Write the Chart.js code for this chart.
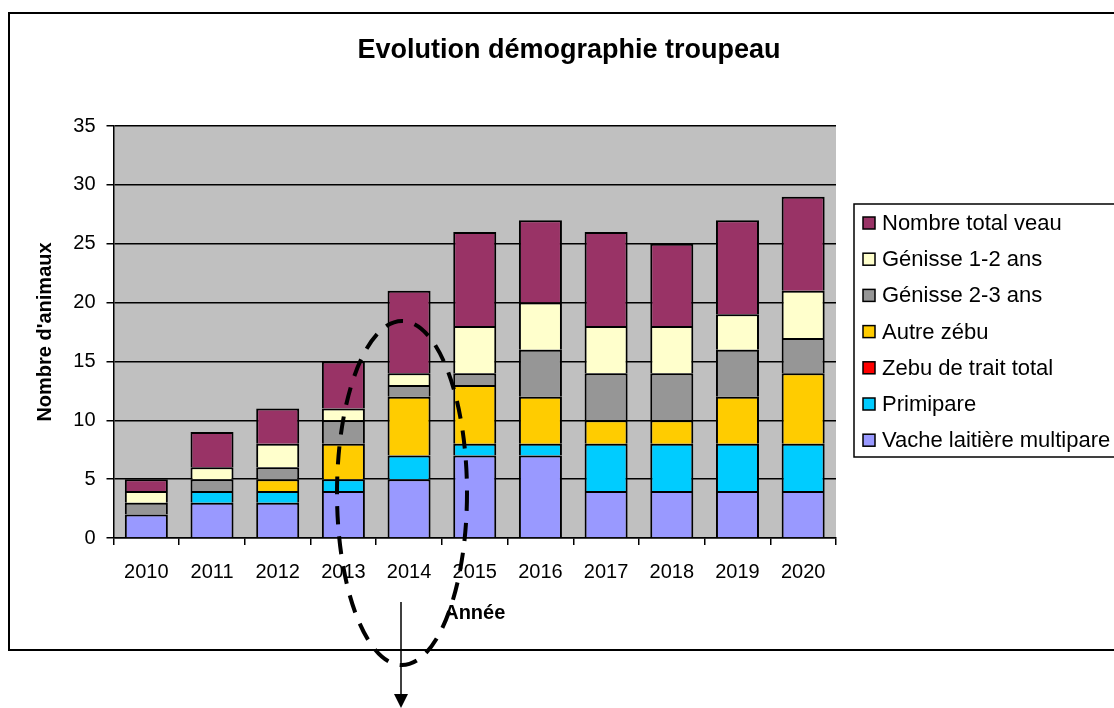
<!DOCTYPE html>
<html lang="fr">
<head>
<meta charset="utf-8">
<title>Evolution démographie troupeau</title>
<script src="https://cdn.jsdelivr.net/npm/chart.js@4.4.1/dist/chart.umd.min.js"></script>
<style>
  html, body { margin: 0; padding: 0; background: #fff; }
  canvas { display: block; }
</style>
</head>
<body>
<canvas id="herdChart" width="1114" height="708"></canvas>
<script>
// --- DATA (head count per year, stacked bottom to top) ---
const years = ['2010', '2011', '2012', '2013', '2014', '2015', '2016', '2017', '2018', '2019', '2020'];
const vacheMultipare = [2, 3, 3, 4, 5, 7, 7, 4, 4, 4, 4];
const primipare      = [0, 1, 1, 1, 2, 1, 1, 4, 4, 4, 4];
const zebuTrait      = [0, 0, 0, 0, 0, 0, 0, 0, 0, 0, 0];
const autreZebu      = [0, 0, 1, 3, 5, 5, 4, 2, 2, 4, 6];
const genisse23      = [1, 1, 1, 2, 1, 1, 4, 4, 4, 4, 3];
const genisse12      = [1, 1, 2, 1, 1, 4, 4, 4, 4, 3, 4];
const veaux          = [1, 3, 3, 4, 7, 8, 7, 8, 7, 8, 8];
const yTicks = [0, 5, 10, 15, 20, 25, 30, 35];

const FONT = "'Liberation Sans', Arial, sans-serif";

const series = [
    { label: 'Vache laitière multipare', data: vacheMultipare, color: '#9999ff' },
    { label: 'Primipare', data: primipare, color: '#00ccff' },
    { label: 'Zebu de trait total', data: zebuTrait, color: '#ff0000' },
    { label: 'Autre zébu', data: autreZebu, color: '#ffcc00' },
    { label: 'Génisse 2-3 ans', data: genisse23, color: '#969696' },
    { label: 'Génisse 1-2 ans', data: genisse12, color: '#ffffcc' },
    { label: 'Nombre total veau', data: veaux, color: '#993366' }
];

// grey plot area behind the bars, then title, legend box and annotations on top
const decor = {
    id: 'decor',
    beforeDraw(chart) {
        const { ctx, chartArea: a } = chart;
        ctx.save();
        ctx.fillStyle = '#c0c0c0';
        ctx.fillRect(a.left, a.top, a.right - a.left, a.bottom - a.top);
        ctx.restore();
    },
    afterDraw(chart) {
        const ctx = chart.ctx;
        ctx.save();

        // outer frame
        ctx.strokeStyle = '#000';
        ctx.lineWidth = 2;
        ctx.strokeRect(9, 13, 1130, 637);

        // title
        ctx.fillStyle = '#000';
        ctx.font = `bold 27px ${FONT}`;
        ctx.textAlign = 'center';
        ctx.textBaseline = 'middle';
        ctx.fillText('Evolution démographie troupeau', 569, 51);

        // legend (top entry = last dataset)
        ctx.lineWidth = 1.5;
        ctx.strokeRect(854, 204, 300, 253);
        ctx.font = `22px ${FONT}`;
        ctx.textAlign = 'left';
        const items = chart.data.datasets.slice().reverse();
        items.forEach((ds, i) => {
            const y = 223 + i * 36.2;
            ctx.fillStyle = ds.backgroundColor;
            ctx.fillRect(863, y - 6, 12, 12);
            ctx.strokeStyle = '#000';
            ctx.lineWidth = 1.5;
            ctx.strokeRect(863, y - 6, 12, 12);
            ctx.fillStyle = '#000';
            ctx.fillText(ds.label, 882, y + 1);
        });

        // dashed ellipse around 2014
        ctx.strokeStyle = '#000';
        ctx.lineWidth = 4;
        ctx.setLineDash([18, 12]);
        ctx.beginPath();
        ctx.ellipse(402, 493, 65, 172, 0, 0, Math.PI * 2);
        ctx.stroke();
        ctx.setLineDash([]);

        // arrow pointing down
        ctx.lineWidth = 1.5;
        ctx.beginPath();
        ctx.moveTo(401, 602);
        ctx.lineTo(401, 696);
        ctx.stroke();
        ctx.beginPath();
        ctx.moveTo(394, 694);
        ctx.lineTo(408, 694);
        ctx.lineTo(401, 708);
        ctx.closePath();
        ctx.fillStyle = '#000';
        ctx.fill();

        ctx.restore();
    }
};

new Chart(document.getElementById('herdChart'), {
    type: 'bar',
    data: {
        labels: years,
        datasets: series.map(s => ({
            label: s.label,
            data: s.data,
            backgroundColor: s.color,
            borderColor: '#000',
            borderWidth: 2,
            categoryPercentage: 1,
            barPercentage: 0.655
        }))
    },
    options: {
        responsive: false,
        animation: false,
        devicePixelRatio: 1,
        layout: { padding: { left: 15, top: 126, right: 278, bottom: 70 } },
        plugins: {
            legend: { display: false },
            title: { display: false },
            tooltip: { enabled: false }
        },
        scales: {
            x: {
                stacked: true,
                afterFit: s => { s.height = 100; },
                grid: { drawOnChartArea: false, tickLength: 7, color: '#000', lineWidth: 1.5 },
                border: { color: '#000', width: 1.5 },
                ticks: { color: '#000', padding: 15, font: { family: FONT, size: 20 } },
                title: {
                    display: true,
                    text: 'Année',
                    color: '#000',
                    font: { family: FONT, size: 20, weight: 'bold' },
                    padding: { top: 0, bottom: 13 }
                }
            },
            y: {
                stacked: true,
                min: yTicks[0],
                max: yTicks[yTicks.length - 1],
                afterFit: s => { s.width = 98.5; },
                afterBuildTicks: s => { s.ticks = yTicks.map(v => ({ value: v })); },
                grid: { color: '#000', lineWidth: 1.5, tickLength: 7 },
                border: { color: '#000', width: 1.5 },
                ticks: { color: '#000', padding: 11, font: { family: FONT, size: 20 } },
                title: {
                    display: true,
                    text: "Nombre d'animaux",
                    color: '#000',
                    font: { family: FONT, size: 20, weight: 'bold' },
                    padding: { top: 18, bottom: 0 }
                }
            }
        }
    },
    plugins: [decor]
});
</script>
</body>
</html>
